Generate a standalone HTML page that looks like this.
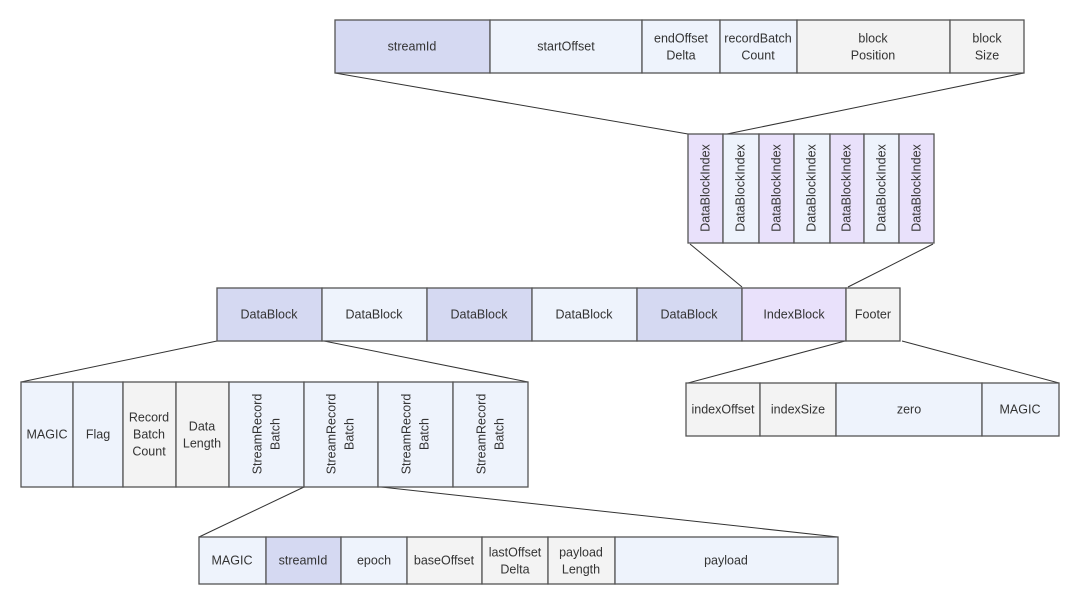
<!DOCTYPE html>
<html><head><meta charset="utf-8"><style>
body{margin:0;background:#fff}
svg text{font-family:"Liberation Sans","DejaVu Sans",sans-serif;font-size:12.5px;fill:#333;text-anchor:middle;dominant-baseline:middle}
rect{stroke:#555;stroke-width:1.3}
line{stroke:#333;stroke-width:1}
</style></head><body>
<svg width="1080" height="605" viewBox="0 0 1080 605" xmlns="http://www.w3.org/2000/svg">
<!-- connector lines -->
<line x1="335" y1="73" x2="688" y2="134"/>
<line x1="1024" y1="73" x2="727" y2="134"/>
<line x1="690" y1="244" x2="742" y2="287"/>
<line x1="933" y1="244" x2="848" y2="287"/>
<line x1="217" y1="341" x2="21" y2="382"/>
<line x1="324" y1="341" x2="528" y2="382"/>
<line x1="845" y1="341" x2="688" y2="383"/>
<line x1="902" y1="341" x2="1059" y2="383"/>
<line x1="304" y1="487" x2="199" y2="537"/>
<line x1="381" y1="487" x2="838" y2="537"/>

<!-- top row -->
<rect x="335" y="20" width="155" height="53" fill="#d5d9f2"/>
<rect x="490" y="20" width="152" height="53" fill="#eef3fc"/>
<rect x="642" y="20" width="78" height="53" fill="#eef3fc"/>
<rect x="720" y="20" width="77" height="53" fill="#eef3fc"/>
<rect x="797" y="20" width="153" height="53" fill="#f3f3f3"/>
<rect x="950" y="20" width="74" height="53" fill="#f3f3f3"/>
<text x="412" y="47">streamId</text>
<text x="566" y="47">startOffset</text>
<text x="681" y="39">endOffset</text><text x="681" y="56">Delta</text>
<text x="758" y="39">recordBatch</text><text x="758" y="56">Count</text>
<text x="873" y="39">block</text><text x="873" y="56">Position</text>
<text x="987" y="39">block</text><text x="987" y="56">Size</text>

<!-- index column -->
<rect x="688" y="134" width="35" height="109" fill="#e9e1fb"/>
<rect x="723" y="134" width="36" height="109" fill="#eef3fc"/>
<rect x="759" y="134" width="35" height="109" fill="#e9e1fb"/>
<rect x="794" y="134" width="36" height="109" fill="#eef3fc"/>
<rect x="830" y="134" width="34" height="109" fill="#e9e1fb"/>
<rect x="864" y="134" width="35" height="109" fill="#eef3fc"/>
<rect x="899" y="134" width="35" height="109" fill="#e9e1fb"/>
<text transform="translate(706,188) rotate(-90)">DataBlockIndex</text>
<text transform="translate(741,188) rotate(-90)">DataBlockIndex</text>
<text transform="translate(777,188) rotate(-90)">DataBlockIndex</text>
<text transform="translate(812,188) rotate(-90)">DataBlockIndex</text>
<text transform="translate(847,188) rotate(-90)">DataBlockIndex</text>
<text transform="translate(882,188) rotate(-90)">DataBlockIndex</text>
<text transform="translate(917,188) rotate(-90)">DataBlockIndex</text>

<!-- main row -->
<rect x="217" y="288" width="105" height="53" fill="#d5d9f2"/>
<rect x="322" y="288" width="105" height="53" fill="#eef3fc"/>
<rect x="427" y="288" width="105" height="53" fill="#d5d9f2"/>
<rect x="532" y="288" width="105" height="53" fill="#eef3fc"/>
<rect x="637" y="288" width="105" height="53" fill="#d5d9f2"/>
<rect x="742" y="288" width="104" height="53" fill="#e9e1fb"/>
<rect x="846" y="288" width="54" height="53" fill="#f3f3f3"/>
<text x="269" y="315">DataBlock</text>
<text x="374" y="315">DataBlock</text>
<text x="479" y="315">DataBlock</text>
<text x="584" y="315">DataBlock</text>
<text x="689" y="315">DataBlock</text>
<text x="794" y="315">IndexBlock</text>
<text x="873" y="315">Footer</text>

<!-- datablock detail -->
<rect x="21" y="382" width="52" height="105" fill="#eef3fc"/>
<rect x="73" y="382" width="50" height="105" fill="#eef3fc"/>
<rect x="123" y="382" width="53" height="105" fill="#f3f3f3"/>
<rect x="176" y="382" width="53" height="105" fill="#f3f3f3"/>
<rect x="229" y="382" width="75" height="105" fill="#eef3fc"/>
<rect x="304" y="382" width="74" height="105" fill="#eef3fc"/>
<rect x="378" y="382" width="75" height="105" fill="#eef3fc"/>
<rect x="453" y="382" width="75" height="105" fill="#eef3fc"/>
<text x="47" y="435">MAGIC</text>
<text x="98" y="435">Flag</text>
<text x="149" y="418">Record</text><text x="149" y="435">Batch</text><text x="149" y="452">Count</text>
<text x="202" y="427">Data</text><text x="202" y="444">Length</text>
<text transform="translate(258,434) rotate(-90)">StreamRecord</text>
<text transform="translate(276,434) rotate(-90)">Batch</text>
<text transform="translate(332,434) rotate(-90)">StreamRecord</text>
<text transform="translate(350,434) rotate(-90)">Batch</text>
<text transform="translate(407,434) rotate(-90)">StreamRecord</text>
<text transform="translate(425,434) rotate(-90)">Batch</text>
<text transform="translate(482,434) rotate(-90)">StreamRecord</text>
<text transform="translate(500,434) rotate(-90)">Batch</text>

<!-- footer detail -->
<rect x="686" y="383" width="74" height="53" fill="#f3f3f3"/>
<rect x="760" y="383" width="76" height="53" fill="#f3f3f3"/>
<rect x="836" y="383" width="146" height="53" fill="#eef3fc"/>
<rect x="982" y="383" width="77" height="53" fill="#eef3fc"/>
<text x="723" y="410">indexOffset</text>
<text x="798" y="410">indexSize</text>
<text x="909" y="410">zero</text>
<text x="1020" y="410">MAGIC</text>

<!-- record batch detail -->
<rect x="199" y="537" width="67" height="47" fill="#eef3fc"/>
<rect x="266" y="537" width="75" height="47" fill="#d5d9f2"/>
<rect x="341" y="537" width="66" height="47" fill="#eef3fc"/>
<rect x="407" y="537" width="75" height="47" fill="#f3f3f3"/>
<rect x="482" y="537" width="66" height="47" fill="#f3f3f3"/>
<rect x="548" y="537" width="67" height="47" fill="#f3f3f3"/>
<rect x="615" y="537" width="223" height="47" fill="#eef3fc"/>
<text x="232" y="561">MAGIC</text>
<text x="303" y="561">streamId</text>
<text x="374" y="561">epoch</text>
<text x="444" y="561">baseOffset</text>
<text x="515" y="553">lastOffset</text><text x="515" y="570">Delta</text>
<text x="581" y="553">payload</text><text x="581" y="570">Length</text>
<text x="726" y="561">payload</text>
</svg>
</body></html>
